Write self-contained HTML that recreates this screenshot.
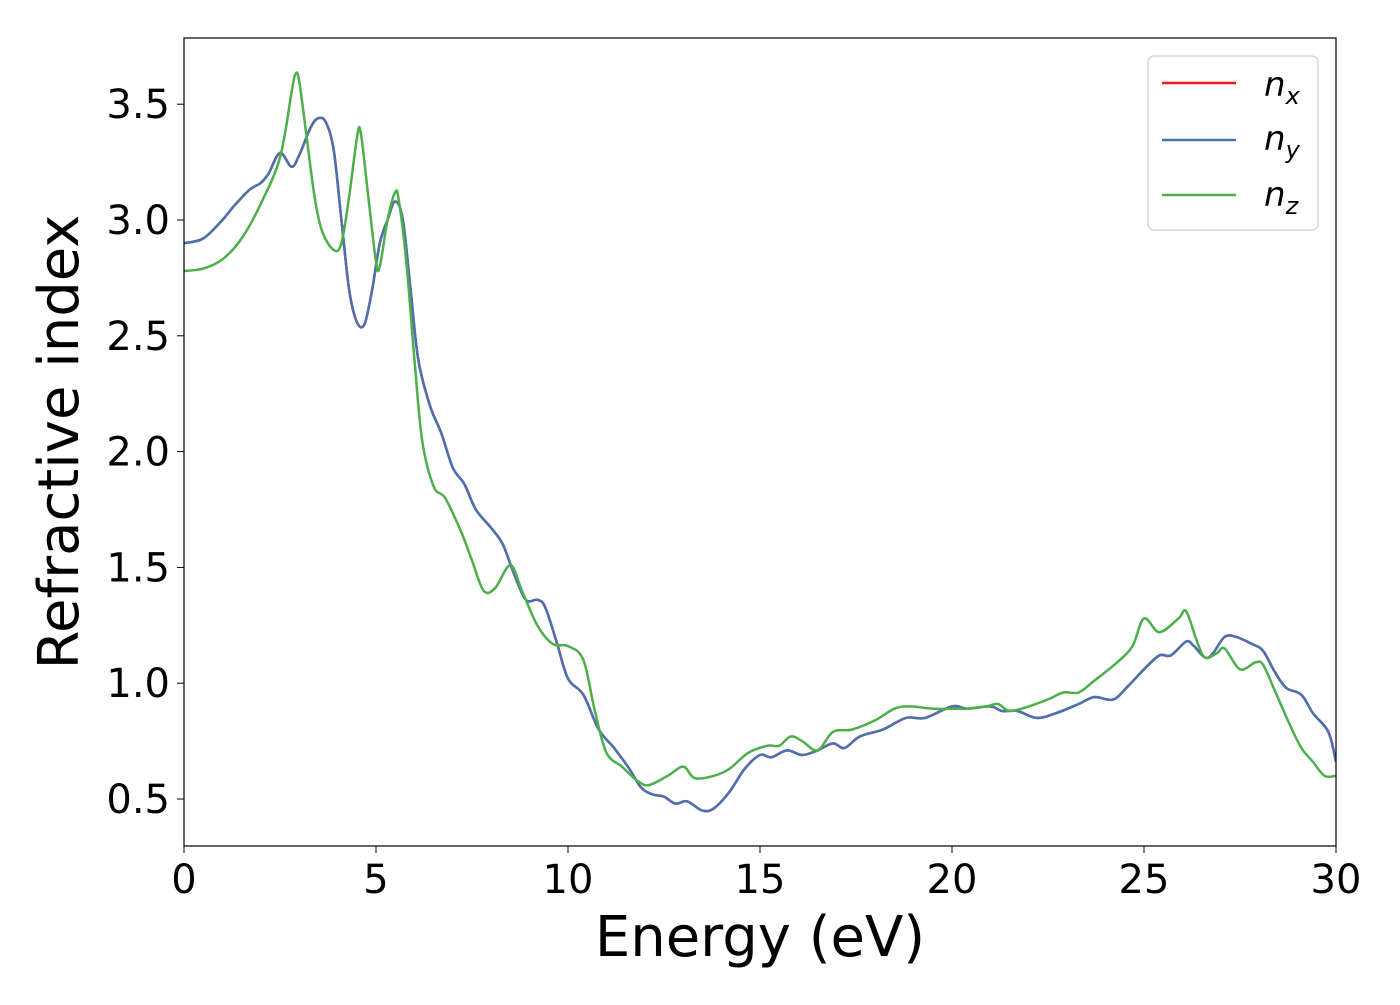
<!DOCTYPE html>
<html><head><meta charset="utf-8"><style>
html,body{margin:0;padding:0;background:#fff;}
svg text{font-family:"DejaVu Sans","Liberation Sans",sans-serif;}
</style></head><body>
<svg id="chart" width="1400" height="1000" viewBox="0 0 1400 1000" xmlns="http://www.w3.org/2000/svg">
<rect width="1400" height="1000" fill="#fff"/>
<g id="plot"></g>
<rect x="184" y="38" width="1152" height="808" fill="none" stroke="#000" stroke-width="1.2"/>
<g id="xticks"></g><g id="yticks"></g>
<text x="760" y="956" font-size="56" text-anchor="middle">Energy (eV)</text>
<text transform="translate(78,442) rotate(-90)" font-size="56" text-anchor="middle">Refractive index</text>
<g>
<rect x="1148" y="56" width="170" height="174" rx="6" fill="#fff" stroke="#ccc" stroke-width="1.2"/>
<line x1="1162" y1="83" x2="1236" y2="83" stroke="#e41a1c" stroke-width="2.5"/>
<line x1="1162" y1="140" x2="1236" y2="140" stroke="#4a72b0" stroke-width="2.5"/>
<line x1="1162" y1="195" x2="1236" y2="195" stroke="#4daf4a" stroke-width="2.5"/>
<text x="1264" y="96" font-size="34" font-style="italic">n<tspan font-size="24" dy="8">x</tspan></text>
<text x="1264" y="150" font-size="34" font-style="italic">n<tspan font-size="24" dy="8">y</tspan></text>
<text x="1264" y="206" font-size="34" font-style="italic">n<tspan font-size="24" dy="8">z</tspan></text>
</g>
</svg>
<script>
const xTicks=[0,5,10,15,20,25,30];
const yTicks=[0.5,1.0,1.5,2.0,2.5,3.0,3.5];
const yTickLabels=["0.5","1.0","1.5","2.0","2.5","3.0","3.5"];
const energyXY=[0,0.5,1.0,1.3,1.7,2.0,2.2,2.5,2.8,3.0,3.3,3.5,3.7,3.9,4.1,4.3,4.5,4.7,4.9,5.1,5.3,5.5,5.7,5.9,6.1,6.4,6.7,7.0,7.3,7.6,8.0,8.3,8.6,8.9,9.2,9.4,9.7,10.0,10.4,10.8,11.2,11.6,11.9,12.2,12.5,12.8,13.1,13.5,13.8,14.2,14.6,15.0,15.3,15.7,16.1,16.5,16.9,17.2,17.6,18.2,18.8,19.3,20.0,20.4,21.0,21.3,21.7,22.2,22.7,23.3,23.7,24.2,24.6,25.0,25.4,25.7,26.1,26.3,26.6,26.8,27.1,27.4,27.8,28.1,28.4,28.7,29.1,29.4,29.8,30];
const nx=[2.90,2.92,3.0,3.06,3.13,3.16,3.2,3.29,3.23,3.28,3.40,3.44,3.42,3.3,3.0,2.7,2.56,2.55,2.7,2.9,3.0,3.08,3.0,2.7,2.4,2.2,2.08,1.93,1.86,1.75,1.67,1.6,1.47,1.36,1.36,1.33,1.18,1.02,0.95,0.8,0.72,0.63,0.55,0.52,0.51,0.48,0.49,0.45,0.46,0.53,0.63,0.69,0.68,0.71,0.69,0.71,0.74,0.72,0.77,0.8,0.85,0.85,0.9,0.89,0.9,0.88,0.88,0.85,0.87,0.91,0.94,0.93,0.99,1.06,1.12,1.12,1.18,1.16,1.11,1.13,1.2,1.2,1.17,1.14,1.05,0.98,0.95,0.87,0.79,0.66];
const ny=nx.slice();
const energyZ=[0,0.5,1.0,1.5,2.0,2.5,2.8,2.9,3.0,3.2,3.4,3.6,3.9,4.1,4.3,4.5,4.6,4.8,5.0,5.1,5.3,5.5,5.6,5.8,6.0,6.2,6.5,6.8,7.2,7.5,7.8,8.1,8.5,8.8,9.2,9.6,10.0,10.4,10.7,11.0,11.4,11.8,12.1,12.6,13.0,13.3,13.8,14.2,14.7,15.2,15.5,15.8,16.1,16.5,16.9,17.4,18.0,18.5,18.9,19.5,20.1,20.4,20.9,21.2,21.5,22.0,22.5,22.9,23.3,23.7,24.3,24.7,25.0,25.4,25.9,26.1,26.4,26.6,26.9,27.1,27.5,27.9,28.1,28.4,28.8,29.1,29.4,29.7,30];
const nz=[2.78,2.79,2.83,2.92,3.07,3.27,3.55,3.63,3.6,3.35,3.1,2.95,2.87,2.9,3.1,3.35,3.38,3.1,2.82,2.80,3.0,3.12,3.08,2.8,2.4,2.05,1.85,1.8,1.66,1.53,1.40,1.41,1.51,1.4,1.25,1.17,1.16,1.1,0.88,0.7,0.64,0.58,0.56,0.6,0.64,0.59,0.6,0.63,0.7,0.73,0.73,0.77,0.75,0.71,0.79,0.8,0.84,0.89,0.9,0.89,0.89,0.89,0.9,0.91,0.88,0.9,0.93,0.96,0.96,1.01,1.09,1.16,1.28,1.22,1.28,1.31,1.17,1.11,1.13,1.15,1.06,1.09,1.08,0.97,0.82,0.72,0.66,0.60,0.60];
const X0=184,X1=1336,XMIN=0,XMAX=30;
const Y_AT_05=799,PX_PER_UNIT=231.6;
function sx(v){return X0+(v-XMIN)/(XMAX-XMIN)*(X1-X0);}
function sy(v){return Y_AT_05-(v-0.5)*PX_PER_UNIT;}
const NS="http://www.w3.org/2000/svg";
function pathD(xs,ys){
  const p=xs.map((x,i)=>[sx(x),sy(ys[i])]);
  let d="M"+p[0][0].toFixed(1)+","+p[0][1].toFixed(1);
  for(let i=0;i<p.length-1;i++){
    const p0=p[Math.max(i-1,0)],p1=p[i],p2=p[i+1],p3=p[Math.min(i+2,p.length-1)];
    const c1=[p1[0]+(p2[0]-p0[0])/6,p1[1]+(p2[1]-p0[1])/6];
    const c2=[p2[0]-(p3[0]-p1[0])/6,p2[1]-(p3[1]-p1[1])/6];
    d+="C"+c1[0].toFixed(1)+","+c1[1].toFixed(1)+" "+c2[0].toFixed(1)+","+c2[1].toFixed(1)+" "+p2[0].toFixed(1)+","+p2[1].toFixed(1);
  }
  return d;
}
const plot=document.getElementById('plot');
const clip=document.createElementNS(NS,'clipPath');clip.setAttribute('id','clp');
const cr=document.createElementNS(NS,'rect');cr.setAttribute('x',X0);cr.setAttribute('y',38);cr.setAttribute('width',X1-X0);cr.setAttribute('height',808);
clip.appendChild(cr);plot.appendChild(clip);
plot.setAttribute('clip-path','url(#clp)');
function addLine(xs,ys,color,name){
  const el=document.createElementNS(NS,'path');
  el.setAttribute('d',pathD(xs,ys));el.setAttribute('fill','none');el.setAttribute('stroke',color);el.setAttribute('stroke-width','2.5');
  
  
  plot.appendChild(el);
}
addLine(energyXY,nx,'#e41a1c','series-nx');
addLine(energyXY,ny,'#4a72b0','series-ny');
addLine(energyZ,nz,'#4daf4a','series-nz');
const xg=document.getElementById('xticks');
xTicks.forEach(v=>{
  const l=document.createElementNS(NS,'line');
  l.setAttribute('x1',sx(v));l.setAttribute('x2',sx(v));l.setAttribute('y1',846);l.setAttribute('y2',853);l.setAttribute('stroke','#000');
  
  
  xg.appendChild(l);
  const t=document.createElementNS(NS,'text');
  t.setAttribute('x',sx(v));t.setAttribute('y',893);t.setAttribute('font-size','40');t.setAttribute('text-anchor','middle');
  t.textContent=String(v);
  
  
  xg.appendChild(t);
});
const yg=document.getElementById('yticks');
yTicks.forEach((v,i)=>{
  const l=document.createElementNS(NS,'line');
  l.setAttribute('x1',177);l.setAttribute('x2',184);l.setAttribute('y1',sy(v));l.setAttribute('y2',sy(v));l.setAttribute('stroke','#000');
  
  
  yg.appendChild(l);
  const t=document.createElementNS(NS,'text');
  t.setAttribute('x',170);t.setAttribute('y',sy(v)+14);t.setAttribute('font-size','40');t.setAttribute('text-anchor','end');
  t.textContent=yTickLabels[i];
  
  
  yg.appendChild(t);
});
</script>
</body></html>
